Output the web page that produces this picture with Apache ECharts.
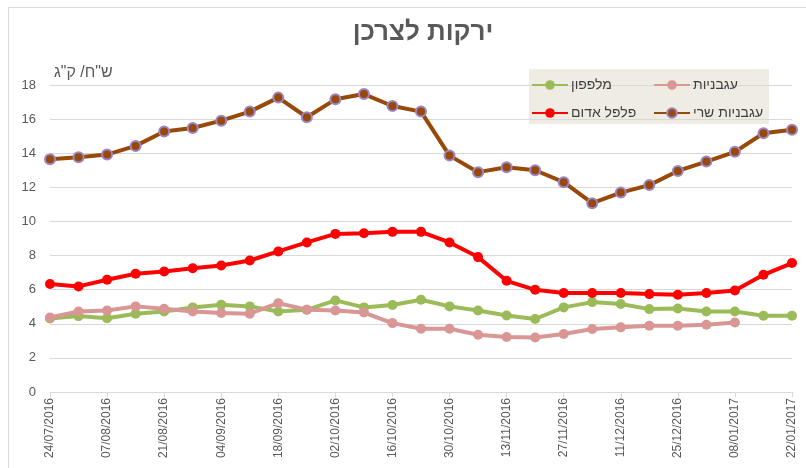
<!DOCTYPE html>
<html>
<head>
<meta charset="utf-8">
<script src="https://cdn.jsdelivr.net/npm/echarts@6/dist/echarts.min.js"></script>
<style>
  html, body { margin: 0; padding: 0; background: #fff; }
  #chart { width: 806px; height: 468px; }
</style>
</head>
<body>
<div id="chart"></div>
<script>
// שבועות
const dates = [
  '24/07/2016', '31/07/2016', '07/08/2016', '14/08/2016', '21/08/2016', '28/08/2016',
  '04/09/2016', '11/09/2016', '18/09/2016', '25/09/2016', '02/10/2016', '09/10/2016',
  '16/10/2016', '23/10/2016', '30/10/2016', '06/11/2016', '13/11/2016', '20/11/2016',
  '27/11/2016', '04/12/2016', '11/12/2016', '18/12/2016', '25/12/2016', '01/01/2017',
  '08/01/2017', '15/01/2017', '22/01/2017'
]
const cucumber = [4.31, 4.45, 4.33, 4.59, 4.72, 4.96, 5.11, 5.02, 4.72, 4.82, 5.37, 4.96, 5.10, 5.41,
  5.02, 4.78, 4.49, 4.28, 4.96, 5.27, 5.16, 4.86, 4.90, 4.72, 4.72, 4.47, 4.47]
const tomatoes = [4.37, 4.72, 4.78, 5.02, 4.88, 4.72, 4.63, 4.59, 5.21, 4.82, 4.78, 4.66, 4.04, 3.71,
  3.71, 3.36, 3.22, 3.20, 3.40, 3.69, 3.79, 3.88, 3.88, 3.94, 4.08, null, null]
const redPepper = [6.33, 6.19, 6.58, 6.93, 7.07, 7.26, 7.42, 7.71, 8.24, 8.77, 9.27, 9.31, 9.39, 9.39,
  8.77, 7.91, 6.52, 5.99, 5.80, 5.80, 5.80, 5.74, 5.70, 5.80, 5.95, 6.87, 7.56]
const cherryTomatoes = [13.65, 13.77, 13.92, 14.43, 15.27, 15.48, 15.91, 16.44, 17.26, 16.11, 17.16, 17.47, 16.77, 16.44,
  13.86, 12.89, 13.18, 13.00, 12.30, 11.07, 11.69, 12.13, 12.96, 13.51, 14.08, 15.17, 15.37]

const font = 'Liberation Sans'
const textColor = '#595959'

const chart = echarts.init(document.getElementById('chart'))

function lineSeries(name, data, color, border) {
  return {
    name,
    type: 'line',
    data,
    symbol: 'circle',
    symbolSize: 10,
    showSymbol: true,
    connectNulls: false,
    lineStyle: { color, width: 4 },
    itemStyle: { color, borderColor: border || color, borderWidth: border ? 2 : 0 },
    emphasis: { disabled: true },
    animation: false
  }
}

const legendBase = {
  orient: 'vertical',
  itemWidth: 36,
  itemHeight: 12,
  itemGap: 14,
  textStyle: { fontFamily: font, fontSize: 14, color: '#404040', padding: [0, 0, 0, -2] },
  padding: 0
}

chart.setOption({
  backgroundColor: '#fff',
  animation: false,
  graphic: [
    {
      type: 'rect', silent: true, z: -10,
      shape: { x: 8.5, y: 7.5, width: 840, height: 500 },
      style: { fill: '#fff', stroke: '#d9d9d9', lineWidth: 1 }
    },
    {
      type: 'rect', silent: true, z: 0,
      shape: { x: 529, y: 69, width: 240, height: 55 },
      style: { fill: '#eeece3' }
    },
    {
      type: 'text', left: 54, top: 65, silent: true,
      style: { text: 'ש"ח/ ק"ג', font: '16px ' + font, fill: textColor }
    },
    {
      type: 'text', x: 423, y: 20, silent: true,
      style: { text: 'ירקות לצרכן', font: 'bold 26px ' + font, fill: textColor, align: 'center' }
    }
  ],
  legend: [
    Object.assign({}, legendBase, { left: 531, top: 78, data: ['מלפפון', 'פלפל אדום'] }),
    Object.assign({}, legendBase, { left: 653, top: 78, data: ['עגבניות', 'עגבניות שרי'] })
  ],
  grid: { left: 50, right: 14, top: 85, bottom: 76 },
  xAxis: {
    type: 'category',
    data: dates,
    boundaryGap: false,
    axisLine: { lineStyle: { color: '#d9d9d9' } },
    axisTick: { show: true, interval: 1, length: 5, lineStyle: { color: '#d9d9d9' } },
    axisLabel: { interval: 1, rotate: 90, fontFamily: font, fontSize: 12, color: textColor, margin: 6 }
  },
  yAxis: {
    type: 'value',
    min: 0,
    max: 18,
    interval: 2,
    axisLine: { show: false },
    axisTick: { show: false },
    axisLabel: { fontFamily: font, fontSize: 13, color: textColor, margin: 14 },
    splitLine: { lineStyle: { color: '#d9d9d9' } }
  },
  series: [
    lineSeries('מלפפון', cucumber, '#9bbb59'),
    lineSeries('עגבניות', tomatoes, '#d99694'),
    lineSeries('פלפל אדום', redPepper, '#ff0000'),
    lineSeries('עגבניות שרי', cherryTomatoes, '#984807', '#9b86c9')
  ]
})
</script>
</body>
</html>
